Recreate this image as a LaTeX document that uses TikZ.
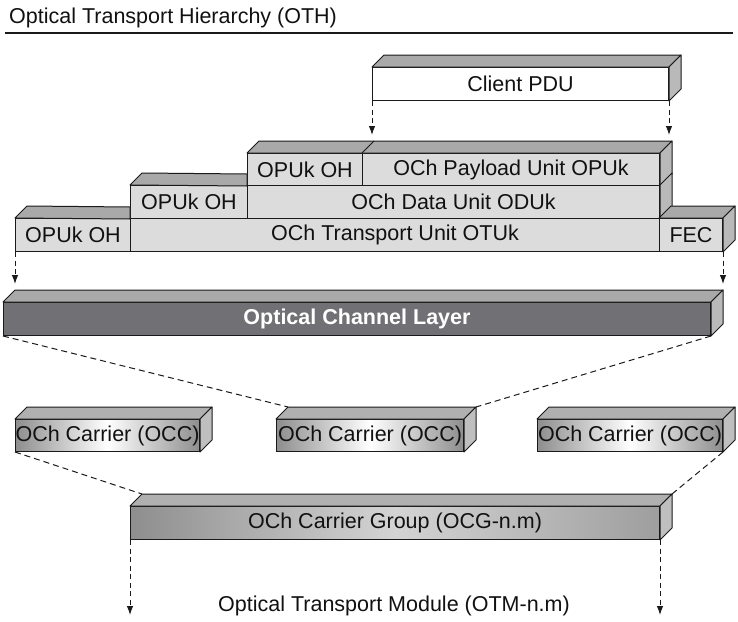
\documentclass[tikz,border=0pt]{standalone}
\usepackage{fontspec}
\setmainfont{Liberation Sans}
\usetikzlibrary{arrows.meta,calc}
\definecolor{edge}{HTML}{1A1A1A}
\definecolor{ink}{HTML}{111111}
\definecolor{frontgray}{HTML}{DCDCDC}
\definecolor{topgray}{HTML}{A9A9A9}
\definecolor{sidegray}{HTML}{B9B9B9}
\definecolor{darkfront}{HTML}{717175}
\definecolor{occedge}{HTML}{8E8E8E}
\definecolor{occtop}{HTML}{B0B0B0}
\definecolor{occside}{HTML}{BFBFBF}
\definecolor{ocgleft}{HTML}{8E8E8E}
\definecolor{ocgmid}{HTML}{D4D4D4}
\definecolor{ocgright}{HTML}{9E9E9E}
\newcommand{\tface}[3]{\filldraw[face, fill=#3] (#1) -- ($(#1)+(12,-12)$) -- ($(#2)+(12,-12)$) -- (#2) -- cycle;}
\newcommand{\sface}[2]{\filldraw[face, fill=#2] (#1.north east) -- ($(#1.north east)+(12,-12)$) -- ($(#1.south east)+(12,-12)$) -- (#1.south east) -- cycle;}
\begin{document}
\begin{tikzpicture}[x=1pt,y=-1pt,
  txt/.style={font=\fontsize{21.5}{25}\selectfont, text=ink},
  cell/.style={txt, draw=edge, line width=1pt, fill=frontgray, inner sep=0pt, anchor=north west},
  face/.style={draw=edge, line width=1pt, line join=round},
  occ/.style={cell, left color=occedge, right color=occedge, middle color=white},
  darrow/.style={draw=edge, line width=1pt, dash pattern=on 5pt off 3.5pt, -{Latex[length=9pt,width=6.5pt]}},
  dline/.style={draw=edge, line width=1pt, dash pattern=on 6pt off 4pt}]
\useasboundingbox (0,0) rectangle (738,621);

% title
\node[txt, anchor=base west, inner sep=0pt] (title) at (9,23) {Optical Transport Hierarchy (OTH)};
\coordinate (ruleL) at (5,33);
\coordinate (ruleR) at (733,33);
\draw[line width=2.5pt, draw=edge] (ruleL) -- (ruleR);

% Client PDU
\node[cell, fill=white, minimum width=296pt, minimum height=33pt] (pdu) at (372,67) {Client PDU};
\tface{pdu.north west}{pdu.north east}{topgray}
\sface{pdu}{sidegray}

% Row 1
\node[cell, minimum width=115pt, minimum height=32pt] (oh1) at (247,153) {OPUk OH};
\node[cell, minimum width=297pt, minimum height=32pt] (pay) at (362,153) {OCh Payload Unit OPUk};
\tface{oh1.north west}{pay.north east}{topgray}
\draw[face] (pay.north west) -- ++(12,-12);
\sface{pay}{sidegray}

% Row 2
\node[cell, minimum width=117pt, minimum height=33pt] (oh2) at (130,185) {OPUk OH};
\node[cell, minimum width=412pt, minimum height=33pt] (data) at (247,185) {OCh Data Unit ODUk};
\filldraw[face, fill=topgray] (oh2.north west) -- ++(12,-12) -- ($(oh1.south west)+(0,-12)$) -- (oh1.south west) -- cycle;
\sface{data}{sidegray}

% Row 3
\node[cell, minimum width=115pt, minimum height=33pt] (oh3) at (15,218) {OPUk OH};
\node[cell, minimum width=529pt, minimum height=33pt] (otu) at (130,218) {OCh Transport Unit OTUk};
\node[cell, minimum width=63pt, minimum height=33pt] (fec) at (659,218) {FEC};
\filldraw[face, fill=topgray] (oh3.north west) -- ++(12,-12) -- ($(oh2.south west)+(0,-12)$) -- (oh2.south west) -- cycle;
\tface{fec.north west}{fec.north east}{topgray}
\sface{fec}{sidegray}

% arrows from client PDU and OTUk row
\draw[darrow] (pdu.south west) -- ++(0,34);
\draw[darrow] (pdu.south east) -- ++(0,34);
\draw[darrow] (oh3.south west) -- ++(0,32);
\draw[darrow] (fec.south east) -- ++(0,32);

% Optical Channel Layer
\node[cell, fill=darkfront, text=white, font=\fontsize{21.5}{25}\selectfont\bfseries, minimum width=707pt, minimum height=33pt] (ocl) at (3,302) {Optical Channel Layer};
\tface{ocl.north west}{ocl.north east}{topgray}
\sface{ocl}{sidegray}

% OCh carriers
\node[occ, minimum width=184pt, minimum height=32pt] (occ1) at (15,419) {OCh Carrier (OCC)};
\node[occ, minimum width=187pt, minimum height=32pt] (occ2) at (276,419) {OCh Carrier (OCC)};
\node[occ, minimum width=185pt, minimum height=32pt] (occ3) at (537,419) {OCh Carrier (OCC)};
\foreach \n in {occ1,occ2,occ3}{
  \tface{\n.north west}{\n.north east}{occtop}
  \sface{\n}{occside}
}

% OCG
\node[cell, left color=ocgleft, right color=ocgright, middle color=ocgmid, minimum width=529pt, minimum height=33pt] (ocg) at (130,506) {OCh Carrier Group (OCG-n.m)};
\tface{ocg.north west}{ocg.north east}{occtop}
\sface{ocg}{occside}

% dashed connectors
\draw[dline] (ocl.south west) -- ($(occ2.north west)+(12,-12)$);
\draw[dline] (ocl.south east) -- ($(occ2.north east)+(12,-12)$);
\draw[dline] (occ1.south west) -- ($(ocg.north west)+(12,-12)$);
\draw[dline] (occ3.south east) -- ($(ocg.north east)+(12,-12)$);

% OTM
\draw[darrow] (ocg.south west) -- ++(0,75);
\draw[darrow] (ocg.south east) -- ++(0,75);
\node[txt] (otm) at (394,606) {Optical Transport Module (OTM-n.m)};
\end{tikzpicture}
\end{document}
